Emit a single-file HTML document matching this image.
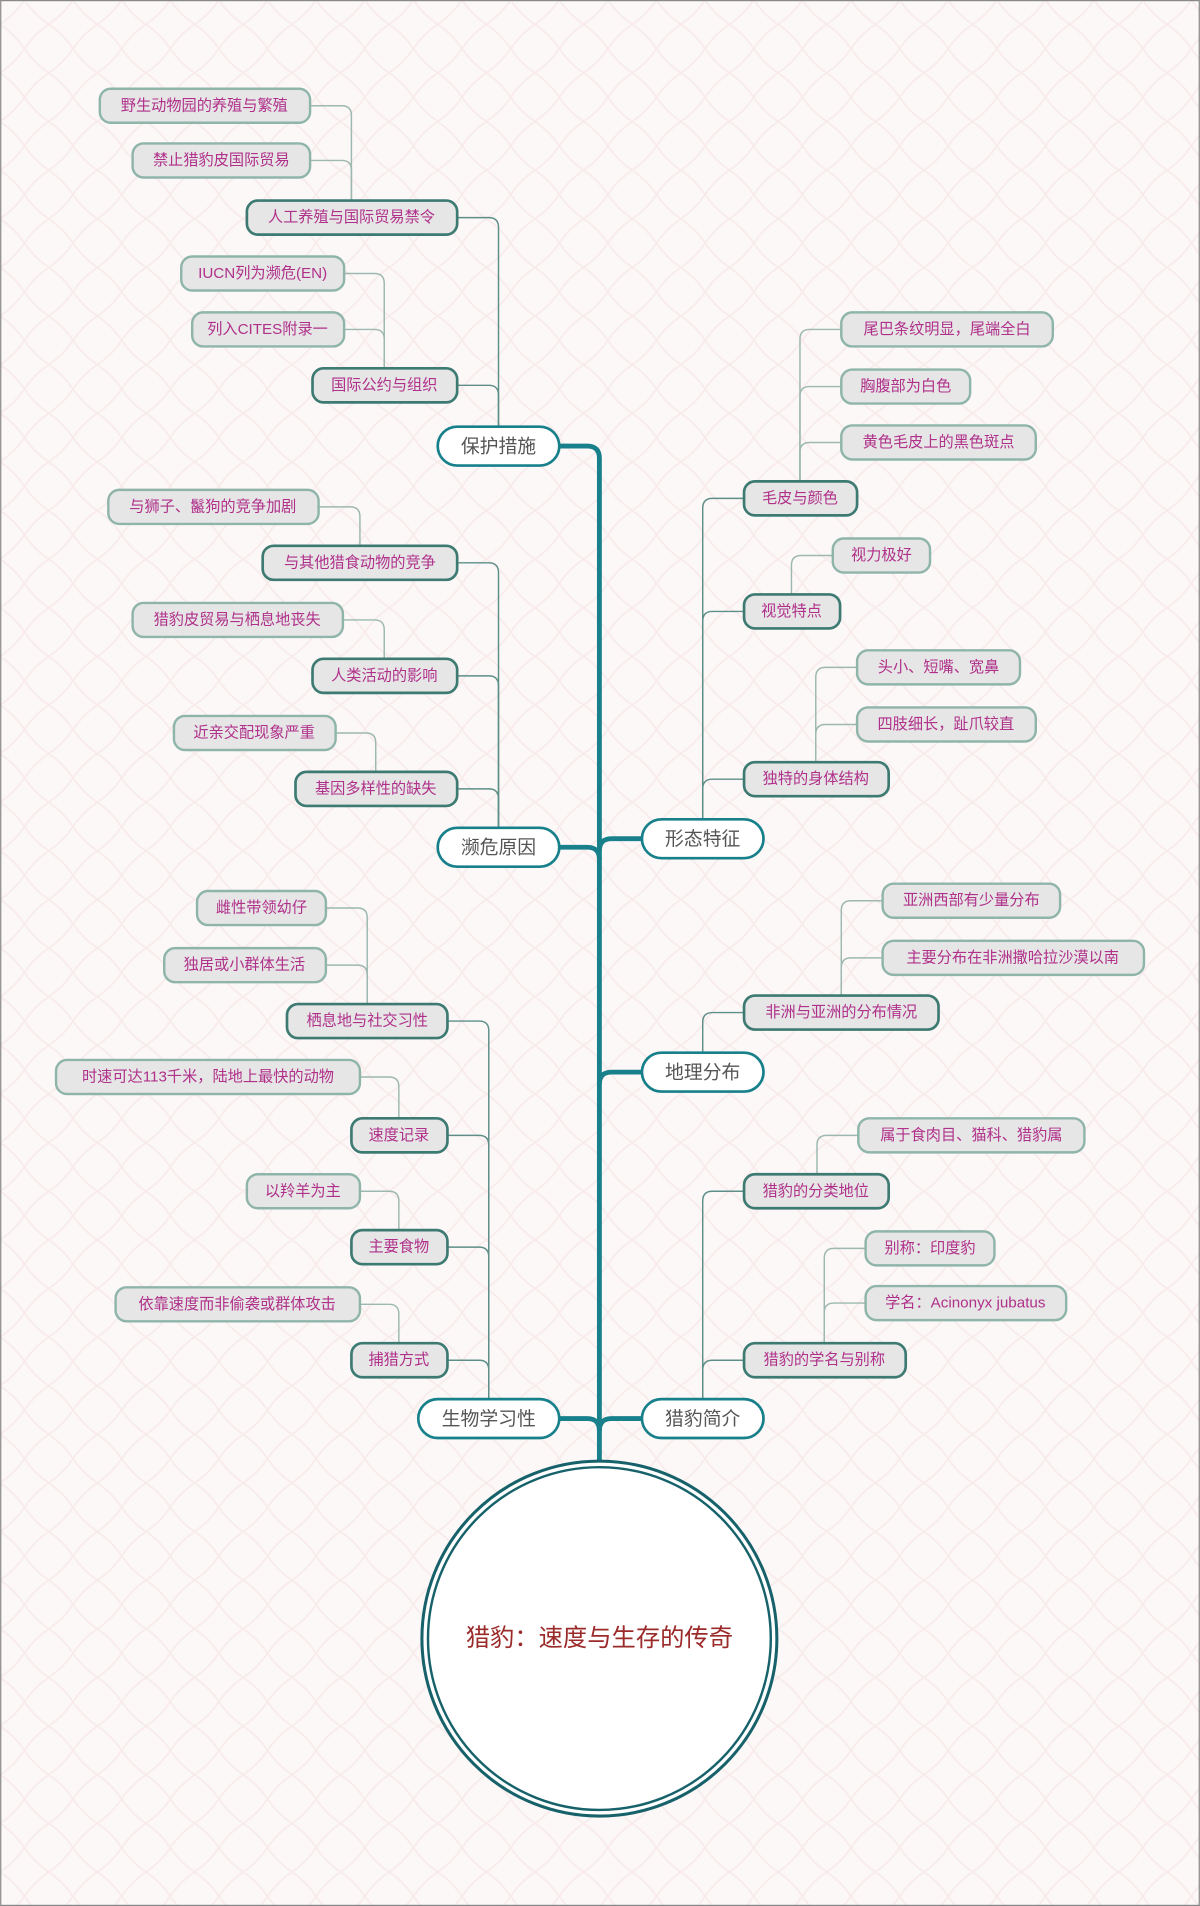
<!DOCTYPE html>
<html><head><meta charset="utf-8"><style>
html,body{margin:0;padding:0;background:#fdf6f6;}
svg{display:block;}
text{font-family:"Liberation Sans","Noto Sans CJK SC",sans-serif;}
</style></head><body>
<svg width="1200" height="1906" viewBox="0 0 987 1568" xmlns="http://www.w3.org/2000/svg">
<defs>
<pattern id="pt" width="40" height="40" patternUnits="userSpaceOnUse">
<rect width="40" height="40" fill="#fdf8f8"/>
<path d="M20 0 Q28 12 40 20 Q28 28 20 40 Q12 28 0 20 Q12 12 20 0Z" fill="none" stroke="#f8ebeb" stroke-width="1.5"/>
</pattern>
</defs>
<rect width="987" height="1568" fill="url(#pt)"/>
<rect x="0.5" y="0.5" width="986" height="1567" fill="none" stroke="#888" stroke-width="1"/>

<g fill="none" stroke="#17808a" stroke-width="4">
<path d="M460,367 H483 Q493,367 493,377 V1205"/>
<path d="M460,697 H483 Q493,697 493,707"/>
<path d="M460,1167 H483 Q493,1167 493,1177"/>
<path d="M528,690 H503 Q493,690 493,700"/>
<path d="M528,882 H503 Q493,882 493,892"/>
<path d="M528,1167 H503 Q493,1167 493,1177"/>
</g>

<g fill="none" stroke="#9cb8b0" stroke-width="1.2">
<path d="M255,87 H281 Q289,87 289,95 V166"/>
<path d="M255,132 H281 Q289,132 289,140 V166"/>
<path d="M283,225 H308 Q316,225 316,233 V304"/>
<path d="M283,271 H308 Q316,271 316,279 V304"/>
<path d="M262,417 H288 Q296,417 296,425 V450"/>
<path d="M282,510 H308 Q316,510 316,518 V543"/>
<path d="M276,603 H301 Q309,603 309,611 V636"/>
<path d="M268,747 H294 Q302,747 302,755 V827"/>
<path d="M268,794 H294 Q302,794 302,802 V827"/>
<path d="M296,886 H320 Q328,886 328,894 V921"/>
<path d="M296,980 H320 Q328,980 328,988 V1013"/>
<path d="M296,1073 H320 Q328,1073 328,1081 V1106"/>
<path d="M692,271 H666 Q658,271 658,279 V397"/>
<path d="M692,318 H666 Q658,318 658,326 V397"/>
<path d="M692,364 H666 Q658,364 658,372 V397"/>
<path d="M685,457 H659 Q651,457 651,465 V490"/>
<path d="M705,549 H679 Q671,549 671,557 V628"/>
<path d="M705,596 H679 Q671,596 671,604 V628"/>
<path d="M726,741 H700 Q692,741 692,749 V820"/>
<path d="M726,788 H700 Q692,788 692,796 V820"/>
<path d="M706,934 H680 Q672,934 672,942 V967"/>
<path d="M712,1027 H686 Q678,1027 678,1035 V1106"/>
<path d="M712,1072 H686 Q678,1072 678,1080 V1106"/>
</g>
<g fill="none" stroke="#5d8f88" stroke-width="1.2">
<path d="M376,179 H402 Q410,179 410,187 V351"/>
<path d="M376,317 H402 Q410,317 410,325 V351"/>
<path d="M376,463 H402 Q410,463 410,471 V681"/>
<path d="M376,556 H402 Q410,556 410,564 V681"/>
<path d="M376,649 H402 Q410,649 410,657 V681"/>
<path d="M368,840 H394 Q402,840 402,848 V1151"/>
<path d="M368,934 H394 Q402,934 402,942 V1151"/>
<path d="M368,1026 H394 Q402,1026 402,1034 V1151"/>
<path d="M368,1119 H394 Q402,1119 402,1127 V1151"/>
<path d="M612,410 H586 Q578,410 578,418 V674"/>
<path d="M612,503 H586 Q578,503 578,511 V674"/>
<path d="M612,641 H586 Q578,641 578,649 V674"/>
<path d="M612,833 H586 Q578,833 578,841 V866"/>
<path d="M612,980 H586 Q578,980 578,988 V1151"/>
<path d="M612,1119 H586 Q578,1119 578,1127 V1151"/>
</g>

<g fill="#e6e6e6" stroke="#8fb5ab" stroke-width="2">
<rect x="82" y="73" width="173" height="28" rx="9"/>
<rect x="109" y="118" width="146" height="28" rx="9"/>
<rect x="149" y="211" width="134" height="28" rx="9"/>
<rect x="158" y="257" width="125" height="28" rx="9"/>
<rect x="89" y="403" width="173" height="28" rx="9"/>
<rect x="109" y="496" width="173" height="28" rx="9"/>
<rect x="143" y="589" width="133" height="28" rx="9"/>
<rect x="162" y="733" width="106" height="28" rx="9"/>
<rect x="135" y="780" width="133" height="28" rx="9"/>
<rect x="46" y="872" width="250" height="28" rx="9"/>
<rect x="203" y="966" width="93" height="28" rx="9"/>
<rect x="95" y="1059" width="201" height="28" rx="9"/>
<rect x="692" y="257" width="174" height="28" rx="9"/>
<rect x="692" y="304" width="106" height="28" rx="9"/>
<rect x="692" y="350" width="160" height="28" rx="9"/>
<rect x="685" y="443" width="80" height="28" rx="9"/>
<rect x="705" y="535" width="134" height="28" rx="9"/>
<rect x="705" y="582" width="147" height="28" rx="9"/>
<rect x="726" y="727" width="146" height="28" rx="9"/>
<rect x="726" y="774" width="215" height="28" rx="9"/>
<rect x="706" y="920" width="186" height="28" rx="9"/>
<rect x="712" y="1013" width="106" height="28" rx="9"/>
<rect x="712" y="1058" width="165" height="28" rx="9"/>
</g>
<g fill="#e6e6e6" stroke="#3d7a72" stroke-width="2.2">
<rect x="203" y="165" width="173" height="28" rx="9"/>
<rect x="257" y="303" width="119" height="28" rx="9"/>
<rect x="216" y="449" width="160" height="28" rx="9"/>
<rect x="257" y="542" width="119" height="28" rx="9"/>
<rect x="243" y="635" width="133" height="28" rx="9"/>
<rect x="236" y="826" width="132" height="28" rx="9"/>
<rect x="289" y="920" width="79" height="28" rx="9"/>
<rect x="289" y="1012" width="79" height="28" rx="9"/>
<rect x="289" y="1105" width="79" height="28" rx="9"/>
<rect x="612" y="396" width="93" height="28" rx="9"/>
<rect x="612" y="489" width="79" height="28" rx="9"/>
<rect x="612" y="627" width="119" height="28" rx="9"/>
<rect x="612" y="819" width="160" height="28" rx="9"/>
<rect x="612" y="966" width="119" height="28" rx="9"/>
<rect x="612" y="1105" width="133" height="28" rx="9"/>
</g>

<g fill="#b0308a" font-size="12.5" text-anchor="middle" dominant-baseline="central">
<text x="168" y="87">野生动物园的养殖与繁殖</text>
<text x="182" y="132">禁止猎豹皮国际贸易</text>
<text x="216" y="225">IUCN列为濒危(EN)</text>
<text x="220" y="271">列入CITES附录一</text>
<text x="175" y="417">与狮子、鬣狗的竞争加剧</text>
<text x="195" y="510">猎豹皮贸易与栖息地丧失</text>
<text x="209" y="603">近亲交配现象严重</text>
<text x="215" y="747">雌性带领幼仔</text>
<text x="201" y="794">独居或小群体生活</text>
<text x="171" y="886">时速可达113千米，陆地上最快的动物</text>
<text x="249" y="980">以羚羊为主</text>
<text x="195" y="1073">依靠速度而非偷袭或群体攻击</text>
<text x="779" y="271">尾巴条纹明显，尾端全白</text>
<text x="745" y="318">胸腹部为白色</text>
<text x="772" y="364">黄色毛皮上的黑色斑点</text>
<text x="725" y="457">视力极好</text>
<text x="772" y="549">头小、短嘴、宽鼻</text>
<text x="778" y="596">四肢细长，趾爪较直</text>
<text x="799" y="741">亚洲西部有少量分布</text>
<text x="833" y="788">主要分布在非洲撒哈拉沙漠以南</text>
<text x="799" y="934">属于食肉目、猫科、猎豹属</text>
<text x="765" y="1027">别称：印度豹</text>
<text x="794" y="1072">学名：Acinonyx jubatus</text>
<text x="289" y="179">人工养殖与国际贸易禁令</text>
<text x="316" y="317">国际公约与组织</text>
<text x="296" y="463">与其他猎食动物的竞争</text>
<text x="316" y="556">人类活动的影响</text>
<text x="309" y="649">基因多样性的缺失</text>
<text x="302" y="840">栖息地与社交习性</text>
<text x="328" y="934">速度记录</text>
<text x="328" y="1026">主要食物</text>
<text x="328" y="1119">捕猎方式</text>
<text x="658" y="410">毛皮与颜色</text>
<text x="651" y="503">视觉特点</text>
<text x="671" y="641">独特的身体结构</text>
<text x="692" y="833">非洲与亚洲的分布情况</text>
<text x="671" y="980">猎豹的分类地位</text>
<text x="678" y="1119">猎豹的学名与别称</text>
</g>

<g fill="#fff" stroke="#17808a" stroke-width="2.2">
<rect x="360" y="351" width="100" height="32" rx="16"/>
<rect x="360" y="681" width="100" height="32" rx="16"/>
<rect x="344" y="1151" width="116" height="32" rx="16"/>
<rect x="528" y="674" width="100" height="32" rx="16"/>
<rect x="528" y="866" width="100" height="32" rx="16"/>
<rect x="528" y="1151" width="100" height="32" rx="16"/>
</g>
<g fill="#555" font-size="15.5" text-anchor="middle" dominant-baseline="central">
<text x="410" y="367">保护措施</text>
<text x="410" y="697">濒危原因</text>
<text x="402" y="1167">生物学习性</text>
<text x="578" y="690">形态特征</text>
<text x="578" y="882">地理分布</text>
<text x="578" y="1167">猎豹简介</text>
</g>

<circle cx="493" cy="1348" r="146" fill="#fff" stroke="#17626a" stroke-width="2.5"/>
<circle cx="493" cy="1348" r="141" fill="none" stroke="#17626a" stroke-width="2"/>
<text x="493" y="1348" fill="#9b2a2a" font-size="20" text-anchor="middle" dominant-baseline="central">猎豹：速度与生存的传奇</text>
</svg>
</body></html>
